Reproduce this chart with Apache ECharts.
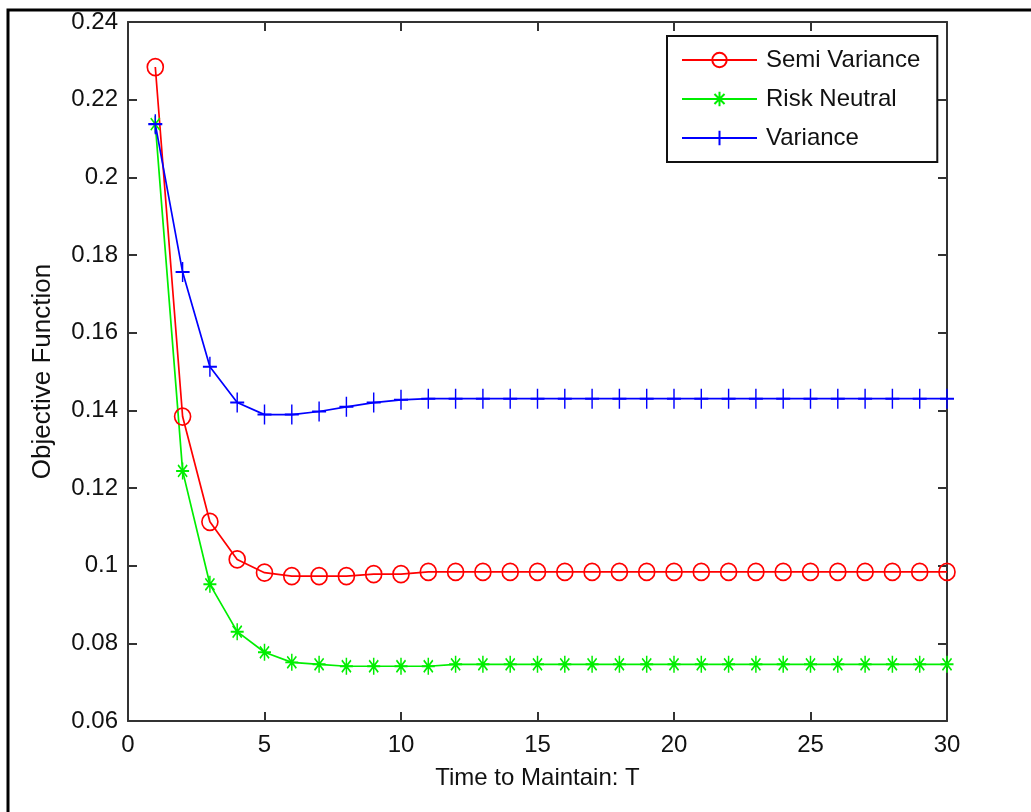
<!DOCTYPE html>
<html>
<head>
<meta charset="utf-8">
<script src="https://cdn.jsdelivr.net/npm/echarts@6/dist/echarts.min.js"></script>
<style>
html,body{margin:0;padding:0;background:#fff;}
#c{width:1031px;height:812px;}
</style>
</head>
<body>
<div id="c"></div>
<script>
var T = [1,2,3,4,5,6,7,8,9,10,11,12,13,14,15,16,17,18,19,20,21,22,23,24,25,26,27,28,29,30];
var semiVariance = [0.2284,0.1384,0.1113,0.1016,0.0982,0.0973,0.0973,0.0973,0.0978,0.0978,
  0.0984,0.0984,0.0984,0.0984,0.0984,0.0984,0.0984,0.0984,0.0984,0.0984,
  0.0984,0.0984,0.0984,0.0984,0.0984,0.0984,0.0984,0.0984,0.0984,0.0984];
var riskNeutral = [0.2137,0.1244,0.0952,0.0830,0.0777,0.0751,0.0746,0.0741,0.0741,0.0741,
  0.0741,0.0746,0.0746,0.0746,0.0746,0.0746,0.0746,0.0746,0.0746,0.0746,
  0.0746,0.0746,0.0746,0.0746,0.0746,0.0746,0.0746,0.0746,0.0746,0.0746];
var variance = [0.2137,0.1756,0.1512,0.1420,0.1389,0.1389,0.1397,0.1409,0.1420,0.1427,
  0.1430,0.1430,0.1430,0.1430,0.1430,0.1430,0.1430,0.1430,0.1430,0.1430,
  0.1430,0.1430,0.1430,0.1430,0.1430,0.1430,0.1430,0.1430,0.1430,0.1430];
var seriesNames = ['Semi Variance','Risk Neutral','Variance'];
var xLabel = 'Time to Maintain: T';
var yLabel = 'Objective Function';

function pairs(vals){ return T.map(function(t,i){ return [t, vals[i]]; }); }

var FONT = '"Liberation Sans", Arial, sans-serif';
var AX = '#333';
var chart = echarts.init(document.getElementById('c'), null, {renderer:'canvas'});

function mkSeries(name, vals, color, symbol, size){
  return {
    name: name, type: 'line', data: pairs(vals),
    xAxisIndex: 0, yAxisIndex: 0,
    symbol: symbol, symbolSize: size, showSymbol: true, clip: false,
    lineStyle: {color: color, width: 1.7},
    itemStyle: {color: 'none', borderColor: color, borderWidth: 1.7},
    emphasis: {disabled: true},
    z: 3
  };
}

var option = {
  animation: false,
  backgroundColor: '#fff',
  grid: {left: 128, top: 22, right: 84, bottom: 91, containLabel: false},
  graphic: [{
    type: 'rect', z: 0, silent: true,
    shape: {x: 8, y: 10, width: 1200, height: 1000},
    style: {fill: 'none', stroke: '#000', lineWidth: 3}
  }],
  legend: {
    orient: 'vertical', left: 667, top: 36,
    padding: [12, 17, 12, 14],
    backgroundColor: '#fff', borderColor: '#111', borderWidth: 2, borderRadius: 0,
    itemWidth: 75, itemHeight: 18, itemGap: 15,
    data: seriesNames,
    textStyle: {fontFamily: FONT, fontSize: 24, color: '#111', padding: [0,0,0,4]},
    selectedMode: false
  },
  xAxis: [{
    type: 'value', min: 0, max: 30, interval: 5, position: 'bottom',
    name: xLabel, nameLocation: 'middle', nameGap: 45,
    nameTextStyle: {fontFamily: FONT, fontSize: 24, color: '#111'},
    axisLine: {show: true, onZero: false, lineStyle: {color: AX, width: 2}},
    axisTick: {show: true, inside: true, length: 9, lineStyle: {color: AX, width: 2}},
    axisLabel: {fontFamily: FONT, fontSize: 24, color: '#111', margin: 12},
    splitLine: {show: false}
  },{
    type: 'value', min: 0, max: 30, interval: 5, position: 'top',
    axisLine: {show: true, onZero: false, lineStyle: {color: AX, width: 2}},
    axisTick: {show: true, inside: true, length: 9, lineStyle: {color: AX, width: 2}},
    axisLabel: {show: false}, splitLine: {show: false}
  }],
  yAxis: [{
    type: 'value', min: 0.06, max: 0.24, interval: 0.02, position: 'left',
    name: yLabel, nameLocation: 'middle', nameGap: 72,
    nameTextStyle: {fontFamily: FONT, fontSize: 26, color: '#111'},
    axisLine: {show: true, onZero: false, lineStyle: {color: AX, width: 2}},
    axisTick: {show: true, inside: true, length: 9, lineStyle: {color: AX, width: 2}},
    axisLabel: {fontFamily: FONT, fontSize: 24, color: '#111', margin: 10,
      formatter: function(v){ return String(+v.toFixed(2)); }},
    splitLine: {show: false}
  },{
    type: 'value', min: 0.06, max: 0.24, interval: 0.02, position: 'right',
    axisLine: {show: true, onZero: false, lineStyle: {color: AX, width: 2}},
    axisTick: {show: true, inside: true, length: 9, lineStyle: {color: AX, width: 2}},
    axisLabel: {show: false}, splitLine: {show: false}
  }],
  series: [
    mkSeries(seriesNames[0], semiVariance, '#ff0000', 'circle', [16, 17]),
    mkSeries(seriesNames[1], riskNeutral, '#00ee00',
      'path://M0,-1L0,1M-1,0L1,0M-0.7,-0.7L0.7,0.7M-0.7,0.7L0.7,-0.7', [13, 17]),
    mkSeries(seriesNames[2], variance, '#0000ff', 'path://M0,-1L0,1M-1,0L1,0', [14, 20])
  ]
};
chart.setOption(option);
</script>
</body>
</html>
